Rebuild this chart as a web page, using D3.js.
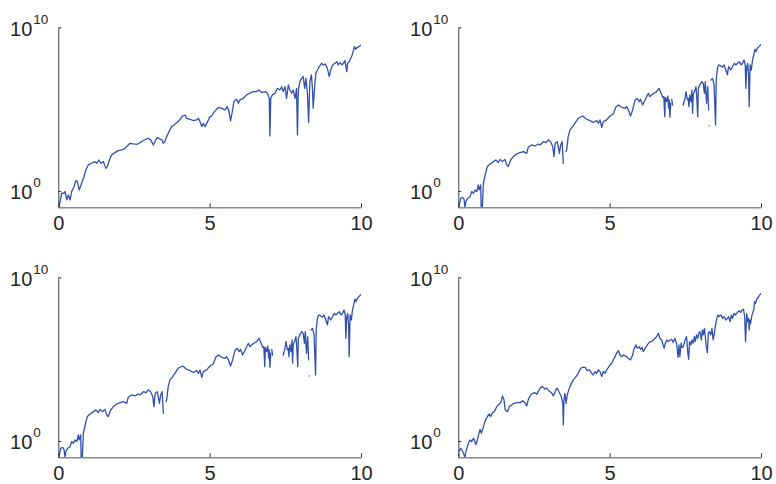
<!DOCTYPE html>
<html>
<head>
<meta charset="utf-8">
<script src="https://cdn.jsdelivr.net/npm/d3@7"></script>
<style>
  body { margin: 0; background: #fff; }
  text { font-family: "Liberation Sans", Arial, sans-serif; fill: #262626; }
</style>
</head>
<body>
<svg id="chart" width="776" height="484"></svg>
<script>
// Axis ticks
const xTicks = [0, 5, 10];
const yTicks = [1, 1e10];
const yTickBase = "10";
const yTickExp = ["0", "10"];
const xDomain = [0, 10];
const yDomain = [1e-1, 1e10];

// Series are stored as x positions and powers of ten (value = 10^p); null marks a gap.
const xA = [0.03,0.11,0.19,0.22,0.28,0.33,0.39,0.44,0.52,0.58,0.63,0.69,0.77,0.85,0.91,0.99,1.10,1.21,1.27,1.34,1.41,1.49,1.57,1.62,1.69,1.76,1.87,1.98,2.09,2.17,2.26,2.37,2.48,2.61,2.70,2.81,2.97,3.05,3.14,3.19,3.27,3.36,3.43,3.47,3.52,3.58,3.66,3.74,3.82,3.96,4.11,4.19,
  4.24,4.35,4.46,4.57,4.63,4.68,4.74,4.79,4.85,4.90,4.96,5.01,5.07,5.12,5.21,5.29,5.40,5.51,5.58,5.64,5.69,5.76,5.80,5.89,5.95,6.00,6.11,6.22,6.33,6.44,6.55,6.63,6.72,6.83,6.91,6.97,6.99,7.02,7.07,7.16,7.24,7.32,7.38,7.43,7.49,7.54,7.60,7.65,7.71,7.76,7.82,7.87,7.90,7.93,7.98,8.04,8.09,8.14,8.18,8.23,8.27,8.31,8.36,8.40,8.42,8.47,8.51,8.56,8.62,8.70,8.76,8.82,8.89,8.95,9.00,9.06,9.14,9.20,9.25,9.31,9.37,9.42,9.47,9.53,9.56,9.61,9.69,9.74,9.78,9.82,9.88,9.94,10.0];
const powA = [-0.96,-0.14,-0.14,-0.04,-0.55,-0.24,-0.55,-0.04,0.26,0.63,0.57,0.06,0.47,0.88,1.28,1.59,1.69,1.79,1.69,1.89,1.69,1.79,1.38,1.49,1.89,2.20,2.34,2.46,2.51,2.55,2.71,2.91,2.87,2.85,2.95,3.08,3.22,3.12,2.81,3.01,3.26,3.16,3.12,2.91,3.01,3.32,3.63,3.93,4.03,4.24,4.58,4.64,
  4.44,4.38,4.30,4.34,4.44,4.24,3.93,4.13,3.93,4.13,4.34,4.54,4.58,4.75,4.95,5.11,5.05,4.95,5.15,4.85,4.28,4.95,5.46,5.60,5.36,5.56,5.66,5.87,5.97,6.07,6.07,6.17,6.01,6.07,5.97,5.66,3.36,5.66,5.87,5.97,6.27,6.17,6.37,6.07,6.37,5.66,6.48,6.17,5.97,6.17,5.66,6.27,3.42,6.17,6.68,6.88,6.99,6.27,6.88,5.97,4.18,6.68,7.09,6.17,5.05,6.37,7.19,7.39,7.60,7.80,7.70,7.76,7.49,6.99,7.39,7.70,7.80,7.90,7.70,7.84,7.70,7.80,7.96,7.29,7.80,7.90,8.21,8.51,8.82,8.66,8.78,8.82,8.92];

const xB = [0.02,0.08,0.14,0.19,0.22,0.25,0.31,0.39,0.44,0.50,0.55,0.61,0.66,0.69,0.74,0.76,0.78,0.83,0.90,0.96,1.05,1.16,1.24,1.32,1.38,1.46,1.54,1.60,1.65,1.73,1.82,1.93,2.04,2.15,2.26,2.31,2.42,2.53,2.64,2.70,2.81,2.90,2.97,3.05,3.12,3.16,3.20,3.27,3.34,3.38,3.43,3.47,null,3.56,3.58,3.63,3.69,3.78,3.85,3.96,4.11,
  4.24,4.35,4.46,4.57,4.63,4.68,4.74,4.79,4.90,5.01,5.12,5.21,5.29,5.40,5.51,5.56,5.62,5.69,5.76,5.84,5.91,5.98,6.02,6.09,6.17,6.22,6.28,6.33,6.39,6.46,6.55,6.63,6.70,6.75,6.79,6.82,6.84,6.88,6.92,6.95,6.97,6.99,7.02,null,7.05,7.08,null,7.43,7.49,7.52,7.57,7.60,7.62,7.65,7.69,7.72,7.74,7.76,7.82,7.85,7.87,7.91,7.93,7.98,8.04,8.09,8.13,8.16,8.20,8.24,8.27,null,8.29,null,8.35,8.40,8.45,8.48,8.50,8.52,8.56,8.60,8.67,8.73,8.78,8.84,8.89,8.93,9.00,9.06,9.12,9.17,9.23,9.28,9.34,9.39,9.44,9.48,9.50,9.53,9.56,9.59,9.61,9.64,9.68,9.72,9.77,9.80,9.83,9.88,9.93,10.0];
const powB = [-1.0,-0.45,-0.39,-0.51,-1.0,-0.65,-0.45,-0.35,-0.04,-0.14,0.06,-0.04,0.37,0.06,0.37,-1.5,-1.5,0.47,1.08,1.49,1.65,1.79,1.89,1.73,1.93,1.79,1.93,1.59,1.49,1.89,2.10,2.26,2.34,2.40,2.30,2.67,2.81,2.75,2.87,2.81,3.01,2.95,3.12,3.01,2.71,2.10,2.91,3.01,2.30,2.81,3.01,1.69,null,2.40,2.51,3.32,3.73,3.93,4.13,4.44,4.58,
  4.38,4.30,4.18,4.30,4.13,4.34,3.89,4.24,4.34,4.58,4.70,5.15,5.25,5.11,5.05,5.15,4.95,4.58,4.95,5.56,5.66,5.46,5.60,5.25,5.56,5.76,5.97,5.76,5.87,5.97,6.07,6.27,5.97,5.72,5.76,4.54,5.72,5.46,5.80,5.05,5.56,4.50,5.36,null,5.60,5.25,null,5.25,5.66,6.07,5.56,5.66,5.15,5.87,5.46,6.17,4.75,5.87,6.17,6.37,5.97,4.54,6.27,6.48,6.68,6.58,5.97,6.68,5.36,6.37,4.95,null,3.97,null,6.78,6.88,6.48,4.95,4.03,6.78,7.49,7.70,7.64,7.56,7.70,7.39,7.09,7.60,7.39,7.60,7.80,7.70,7.80,7.90,7.70,7.80,8.00,7.70,6.27,7.60,7.80,7.09,5.15,7.70,7.39,8.00,8.41,8.66,8.51,8.72,8.82,8.96];

const xC = [0.02,0.08,0.12,0.17,0.22,0.25,0.30,0.34,0.39,0.44,0.50,0.55,0.58,0.63,0.67,0.72,0.76,0.80,0.85,0.89,0.96,1.02,1.07,1.13,1.19,1.27,1.35,1.40,1.46,1.51,1.55,1.62,1.69,1.76,1.84,1.93,2.04,2.13,2.20,2.26,2.31,2.39,2.46,2.53,2.59,2.64,2.70,2.75,2.81,2.86,2.92,2.97,3.03,3.08,3.14,3.19,3.23,3.27,3.34,3.40,3.45,3.47,3.49,3.52,3.56,3.60,3.63,3.69,3.74,3.80,3.89,3.96,4.04,4.11,
  4.19,4.26,4.33,4.41,4.46,4.52,4.57,4.63,4.68,4.74,4.79,4.85,4.90,4.96,5.01,5.07,5.12,5.18,5.23,5.29,5.34,5.40,5.45,5.56,5.62,5.69,5.76,5.80,5.87,5.91,5.98,6.02,6.07,6.11,6.17,6.22,6.28,6.33,6.39,6.44,6.50,6.55,6.61,6.66,6.72,6.75,6.80,6.84,6.89,6.94,7.00,7.05,7.10,7.16,7.21,7.26,7.29,7.32,7.36,7.39,7.43,7.49,7.54,7.58,7.61,7.64,7.69,7.72,7.76,7.80,7.83,7.87,7.91,7.94,7.98,8.03,8.06,8.09,8.13,8.16,8.19,8.23,8.26,8.29,8.34,8.38,8.42,8.46,8.49,8.54,8.58,8.62,8.68,8.73,8.78,8.84,8.89,8.93,8.98,9.02,9.06,9.11,9.16,9.22,9.27,9.33,9.37,9.42,9.46,9.49,9.53,9.56,9.59,9.61,9.64,9.66,9.69,9.72,9.76,9.79,9.82,9.86,9.91,9.96,10.0];
const powC = [-0.65,-0.45,-0.55,-0.75,-1.00,-0.65,-0.35,-0.10,0.06,-0.04,0.16,-0.04,-0.24,0.06,0.37,0.71,0.47,0.67,0.98,1.24,1.49,1.65,1.49,1.73,1.79,2.10,2.26,2.34,2.75,2.51,1.89,1.79,2.10,2.20,2.30,2.34,2.34,2.46,2.34,2.14,2.51,2.81,2.91,2.95,2.85,3.01,3.22,3.32,3.28,3.16,3.22,3.12,3.01,2.95,2.75,2.95,3.16,3.22,2.95,2.71,2.30,0.98,2.51,2.91,2.30,2.81,3.01,3.32,3.52,3.73,3.93,4.13,4.44,4.50,
  4.50,4.30,4.34,4.13,4.03,4.24,4.13,4.34,4.24,3.93,4.24,4.13,4.34,4.50,4.64,4.75,4.95,5.15,5.36,5.52,5.25,5.15,5.25,5.15,5.05,4.95,5.25,5.60,5.87,5.66,5.76,5.60,5.72,5.46,5.66,5.80,5.97,6.07,6.07,6.17,6.27,6.37,6.58,6.27,6.17,5.97,5.66,5.97,6.17,6.07,6.17,6.21,6.01,6.27,5.97,5.11,5.87,5.15,5.97,5.72,5.76,6.17,6.37,5.46,4.99,6.07,5.87,6.17,5.97,6.37,6.07,6.48,6.27,6.58,6.68,6.17,6.78,6.48,6.88,6.37,5.76,5.40,6.58,6.68,6.48,6.88,6.17,6.58,6.99,7.49,7.70,7.60,7.70,7.49,7.60,7.39,7.49,7.60,7.29,7.70,7.49,7.80,7.70,7.84,7.96,7.84,8.00,8.04,7.60,6.07,7.80,7.29,7.49,6.78,7.39,7.19,7.60,7.80,8.00,8.51,8.41,8.66,8.78,8.92,9.02];

function toPoints(xs, ps) {
  return xs.map((x, i) => ({
    x: x,
    y: (x == null || ps[i] == null) ? null : Math.pow(10, ps[i])
  }));
}
const seriesA = toPoints(xA, powA);
const seriesB = toPoints(xB, powB);
const seriesC = toPoints(xC, powC);

// 2x2 grid of panels
const panels = [
  { col: 0, row: 0, data: seriesA },
  { col: 1, row: 0, data: seriesB },
  { col: 0, row: 1, data: seriesB },
  { col: 1, row: 1, data: seriesC }
];
const plotW = 302.7, plotH = 180;
const left0 = 58.3, top0 = 27.3, colStep = 400, rowStep = 250;
const lineColor = "#3151ad";

const svg = d3.select("#chart");

panels.forEach((p, idx) => {
  const ox = left0 + p.col * colStep;
  const oy = top0 + p.row * rowStep;
  const g = svg.append("g").attr("transform", `translate(${ox},${oy})`);

  const x = d3.scaleLinear().domain(xDomain).range([0, plotW]);
  const y = d3.scaleLog().domain(yDomain).range([plotH, 0]);

  g.append("clipPath").attr("id", "clip" + idx)
    .append("rect").attr("x", 0).attr("y", 0).attr("width", plotW).attr("height", plotH);

  const line = d3.line()
    .defined(d => d.y != null)
    .x(d => x(d.x))
    .y(d => y(d.y));

  g.append("path")
    .datum(p.data)
    .attr("clip-path", `url(#clip${idx})`)
    .attr("fill", "none")
    .attr("stroke", lineColor)
    .attr("stroke-width", 1.3)
    .attr("stroke-linejoin", "round")
    .attr("stroke-linecap", "round")
    .attr("d", line);

  // x axis: gray baseline with inward ticks
  const xAxis = g.append("g")
    .attr("transform", `translate(0,${plotH})`)
    .call(d3.axisBottom(x).tickValues(xTicks).tickSize(-4).tickSizeOuter(0).tickFormat(d3.format("d")));
  xAxis.select(".domain").attr("stroke", "#8a8a8a").attr("stroke-width", 1.6);
  xAxis.selectAll(".tick line").attr("stroke", "#333").attr("stroke-width", 1);
  xAxis.selectAll(".tick text")
    .attr("y", 23).attr("dy", null)
    .attr("font-size", 20)
    .style("font-family", '"Liberation Sans", Arial, sans-serif')
    .attr("fill", "#262626");

  // y axis: log scale, ticks labelled as powers of ten
  const yAxis = g.append("g")
    .call(d3.axisLeft(y).tickValues(yTicks).tickSize(-3).tickSizeOuter(0).tickFormat(""));
  yAxis.select(".domain").attr("stroke", "#404040").attr("stroke-width", 1);
  yAxis.selectAll(".tick line").attr("stroke", "#333");
  yAxis.selectAll(".tick text").remove();

  yTicks.forEach((t, i) => {
    const ty = y(t);
    g.append("text")
      .attr("x", -26).attr("y", ty + 8.5)
      .attr("text-anchor", "end")
      .attr("font-size", 20)
      .text(yTickBase);
    g.append("text")
      .attr("x", -25).attr("y", ty - 3.5)
      .attr("text-anchor", "start")
      .attr("font-size", 13.5)
      .text(yTickExp[i]);
  });
});
</script>
</body>
</html>
